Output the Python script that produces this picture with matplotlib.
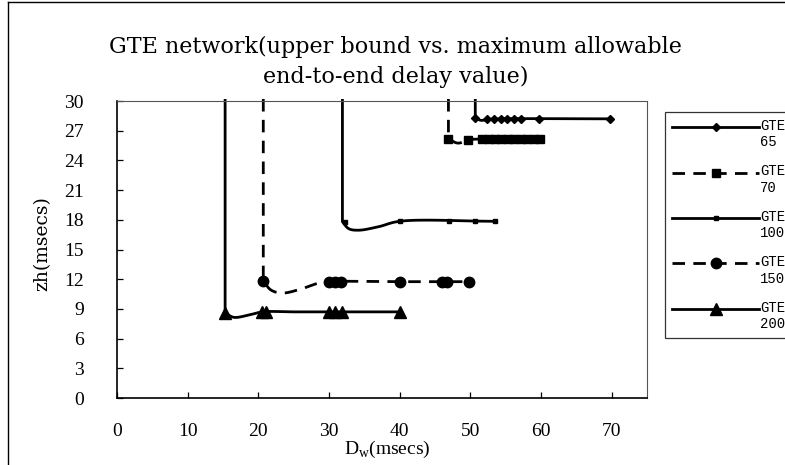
import numpy as np
import matplotlib
matplotlib.use("Agg")
import matplotlib.pyplot as plt
from matplotlib.lines import Line2D
from matplotlib.legend_handler import HandlerLine2D

# ---------------- data ----------------
x_ticks = [0, 10, 20, 30, 40, 50, 60, 70]
y_ticks = [0, 3, 6, 9, 12, 15, 18, 21, 24, 27, 30]

labels = ["GTE\n65", "GTE\n70", "GTE\n100", "GTE\n150", "GTE\n200"]

# marker points
gte65_x = [50.7, 52.4, 53.3, 54.3, 55.2, 56.2, 57.1, 59.7, 69.7]
gte65_y = [28.25, 28.2, 28.2, 28.2, 28.2, 28.2, 28.2, 28.2, 28.2]
gte70_x = [46.9, 49.6, 51.7, 52.6, 53.5, 54.4, 55.3, 56.2, 57.1, 58.0, 59.0, 59.9]
gte70_y = [26.2, 26.1, 26.15, 26.15, 26.15, 26.15, 26.15, 26.15, 26.15, 26.15, 26.15, 26.15]
gte100_x = [32.2, 40.0, 47.0, 50.7, 53.5]
gte100_y = [17.8, 17.85, 17.85, 17.85, 17.85]
gte150_x = [20.7, 30.0, 30.8, 31.7, 40.0, 46.0, 46.7, 49.8]
gte150_y = [11.8, 11.75, 11.75, 11.75, 11.75, 11.75, 11.75, 11.75]
gte200_x = [15.3, 20.5, 21.1, 30.0, 30.9, 31.8, 40.0]
gte200_y = [8.6, 8.7, 8.7, 8.7, 8.7, 8.7, 8.7]

# line paths: first point is the top of the
# vertical asymptote, the rest is the smoothed curve
gte65_cx = [50.7, 50.7, 51.5, 52.6, 54.0, 70.0]
gte65_cy = [30.2, 28.3, 28.05, 28.15, 28.2, 28.2]
gte70_cx = [46.9, 46.9, 48.2, 50.0, 52.0, 60.0]
gte70_cy = [30.2, 26.2, 25.75, 26.1, 26.15, 26.15]
gte100_cx = [31.9, 31.9, 32.8, 34.2, 37.0, 40.0, 53.5]
gte100_cy = [30.2, 17.8, 17.1, 16.95, 17.3, 17.85, 17.85]
gte150_cx = [20.7, 20.7, 21.8, 23.4, 26.0, 28.5, 30.0, 40.0, 50.0]
gte150_cy = [30.2, 11.8, 10.9, 10.6, 11.0, 11.6, 11.75, 11.75, 11.75]
gte200_cx = [15.3, 15.3, 16.5, 18.5, 20.6, 25.0, 30.0, 40.0]
gte200_cy = [30.2, 8.6, 8.15, 8.35, 8.7, 8.7, 8.7, 8.7]


def smooth(xs, ys, n=25, sx=7.1, sy=9.9):
    """Centripetal Catmull-Rom through the points (in pixel-like space)."""
    P = np.column_stack([np.asarray(xs) * sx, np.asarray(ys) * sy]).astype(float)
    P = np.vstack([2 * P[0] - P[1], P, 2 * P[-1] - P[-2]])
    out = []
    for i in range(1, len(P) - 2):
        p0, p1, p2, p3 = P[i - 1], P[i], P[i + 1], P[i + 2]
        t0 = 0.0
        t1 = t0 + max(np.linalg.norm(p1 - p0), 1e-6) ** 0.5
        t2 = t1 + max(np.linalg.norm(p2 - p1), 1e-6) ** 0.5
        t3 = t2 + max(np.linalg.norm(p3 - p2), 1e-6) ** 0.5
        t = np.linspace(t1, t2, n)[:, None]
        a1 = (t1 - t) / (t1 - t0) * p0 + (t - t0) / (t1 - t0) * p1
        a2 = (t2 - t) / (t2 - t1) * p1 + (t - t1) / (t2 - t1) * p2
        a3 = (t3 - t) / (t3 - t2) * p2 + (t - t2) / (t3 - t2) * p3
        b1 = (t2 - t) / (t2 - t0) * a1 + (t - t0) / (t2 - t0) * a2
        b2 = (t3 - t) / (t3 - t1) * a2 + (t - t1) / (t3 - t1) * a3
        c = (t2 - t) / (t2 - t1) * b1 + (t - t1) / (t2 - t1) * b2
        out.append(c if i == 1 else c[1:])
    C = np.vstack(out)
    return C[:, 0] / sx, C[:, 1] / sy


def path(cx, cy):
    # straight vertical part, then smooth curve from the corner on
    sx_, sy_ = smooth(cx[1:], cy[1:])
    return np.concatenate([[cx[0]], sx_]), np.concatenate([[cy[0]], sy_])


SERIF = ["Liberation Serif", "DejaVu Serif"]
plt.rcParams["font.family"] = SERIF

fig = plt.figure(figsize=(7.85, 4.65), dpi=100)
ax = fig.add_axes([117 / 785, 1 - 398 / 465, 530 / 785, 297 / 465])

dash = (0, (4.5, 3.0))
series = [
    (gte65_cx, gte65_cy, gte65_x, gte65_y, "-", "D", 4.0),
    (gte70_cx, gte70_cy, gte70_x, gte70_y, dash, "s", 5.5),
    (gte100_cx, gte100_cy, gte100_x, gte100_y, "-", "s", 3.0),
    (gte150_cx, gte150_cy, gte150_x, gte150_y, dash, "o", 7.5),
    (gte200_cx, gte200_cy, gte200_x, gte200_y, "-", "^", 8.0),
]

handles = []
for cx, cy, mx, my, ls, mk, ms in series:
    px, py = path(cx, cy)
    ax.plot(px, py, color="black", lw=2.0, linestyle=ls, clip_on=False,
            solid_capstyle="butt", dash_capstyle="butt",
            solid_joinstyle="round")
    ax.plot(mx, my, linestyle="none", marker=mk, ms=ms, color="black",
            markeredgecolor="black")
    handles.append(Line2D([], [], color="black", lw=2.0, linestyle=ls,
                          marker=mk, ms=ms))

ax.set_xlim(0, 75)
ax.set_ylim(0, 30)
ax.set_xticks(x_ticks)
ax.set_yticks(y_ticks)
ax.tick_params(direction="in", length=4, width=0.9, labelsize=14,
               top=False, right=False)
ax.tick_params(axis="x", pad=18)
ax.tick_params(axis="y", pad=24)
for s in ["left", "bottom"]:
    ax.spines[s].set_linewidth(1.2)
for s in ["top", "right"]:
    ax.spines[s].set_linewidth(0.8)
    ax.spines[s].set_color("#555555")

ax.set_xlabel(r"D$_\mathregular{w}$(msecs)", fontsize=14)
ax.xaxis.set_label_coords(0.51, (398 - 449) / 297)
ax.xaxis.label.set_verticalalignment("center")
ax.set_ylabel("zh(msecs)", fontsize=13.5, family="DejaVu Serif")
ax.yaxis.set_label_coords((42 - 117) / 530, 0.52)
ax.yaxis.label.set_verticalalignment("center")

fig.text(0.504, 1 - 62 / 465,
         "GTE network(upper bound vs. maximum allowable\nend-to-end delay value)",
         ha="center", va="center", fontsize=16, family="DejaVu Serif",
         linespacing=1.45)


class TopHandler(HandlerLine2D):
    def create_artists(self, legend, orig_handle, xdescent, ydescent,
                       width, height, fontsize, trans):
        arts = super().create_artists(legend, orig_handle, xdescent, ydescent,
                                      width, height, fontsize, trans)
        for a in arts:
            yd = np.asarray(a.get_ydata(), dtype=float)
            a.set_ydata(yd + 0.55 * fontsize)
        return arts


leg = fig.legend(handles, labels, loc="upper left",
                 bbox_to_anchor=(665 / 785, 1 - 112 / 465),
                 fontsize=10, frameon=True, fancybox=False, edgecolor="black",
                 handlelength=6.3, handletextpad=0.05, labelspacing=1.1,
                 borderpad=0.5, borderaxespad=0,
                 handler_map={Line2D: TopHandler(numpoints=1)})
leg.get_frame().set_linewidth(0.9)
for t in leg.get_texts():
    t.set_family(["Liberation Mono", "DejaVu Sans Mono"])

# outer frame (left and top edges visible)
fig.add_artist(Line2D([8 / 785, 8 / 785], [0, 1 - 2 / 465], color="black",
                      lw=1.0, transform=fig.transFigure))
fig.add_artist(Line2D([8 / 785, 1], [1 - 2 / 465, 1 - 2 / 465], color="black",
                      lw=1.0, transform=fig.transFigure))

fig.savefig("out.png", dpi=100)
